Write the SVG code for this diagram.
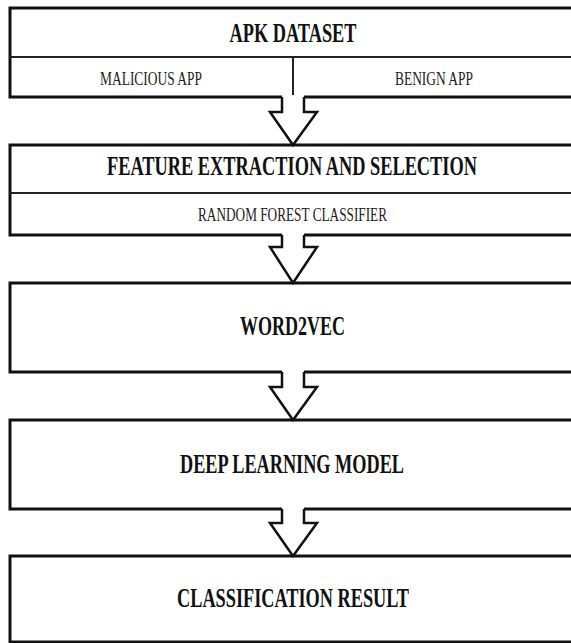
<svg xmlns="http://www.w3.org/2000/svg" width="571" height="643" viewBox="0 0 571 643">
<style>
.box{fill:#fff;stroke:#111;stroke-width:3}
.div{stroke:#222;stroke-width:2;fill:none}
.b{font-family:"Liberation Serif","Times New Roman",serif;font-weight:bold;font-size:27px;fill:#111;text-anchor:middle}
.r{font-family:"Liberation Serif","Times New Roman",serif;font-size:19px;fill:#222;text-anchor:middle}
.af{fill:#fff;stroke:none}
.as{fill:none;stroke:#111;stroke-width:2.5;stroke-linejoin:miter}
</style>
<rect width="571" height="643" fill="#fff"/>
<g id="apk-dataset">
<rect class="box" x="10" y="8" width="566" height="89"/>
<line class="div" x1="10" y1="57" x2="576" y2="57"/>
<line class="div" x1="293" y1="57" x2="293" y2="97"/>
<text class="b" transform="translate(293,41.5) scale(0.68,1)" x="0" y="0" textLength="186.8" lengthAdjust="spacingAndGlyphs">APK DATASET</text>
<text class="r" transform="translate(151,85) scale(0.8,1)" x="0" y="0" textLength="127.5" lengthAdjust="spacingAndGlyphs">MALICIOUS APP</text>
<text class="r" transform="translate(434,85) scale(0.8,1)" x="0" y="0" textLength="97.5" lengthAdjust="spacingAndGlyphs">BENIGN APP</text>
</g>
<g id="feature-extraction">
<rect class="box" x="10" y="145" width="566" height="90"/>
<line class="div" x1="10" y1="193" x2="576" y2="193"/>
<text class="b" transform="translate(292,175) scale(0.68,1)" x="0" y="0" textLength="544" lengthAdjust="spacingAndGlyphs">FEATURE EXTRACTION AND SELECTION</text>
<text class="r" transform="translate(292.5,221) scale(0.8,1)" x="0" y="0" textLength="236.25" lengthAdjust="spacingAndGlyphs">RANDOM FOREST CLASSIFIER</text>
</g>
<g id="word2vec">
<rect class="box" x="10" y="283" width="566" height="89"/>
<text class="b" transform="translate(292.5,335) scale(0.68,1)" x="0" y="0" textLength="154.4" lengthAdjust="spacingAndGlyphs">WORD2VEC</text>
</g>
<g id="deep-learning">
<rect class="box" x="10" y="420" width="566" height="89"/>
<text class="b" transform="translate(292,473) scale(0.68,1)" x="0" y="0" textLength="329.4" lengthAdjust="spacingAndGlyphs">DEEP LEARNING MODEL</text>
</g>
<g id="classification-result">
<rect class="box" x="10" y="556" width="566" height="86"/>
<text class="b" transform="translate(293,607) scale(0.68,1)" x="0" y="0" textLength="341.2" lengthAdjust="spacingAndGlyphs">CLASSIFICATION RESULT</text>
</g>
<g id="connectors">
<polygon class="af" points="282,95 304,95 304,112 317,112 293,145 270,112 282,112"/>
<polyline class="as" points="282,97 282,112 270,112 293,145 317,112 304,112 304,97"/>
<polygon class="af" points="282,233 304,233 304,247 317,247 293,283 270,247 282,247"/>
<polyline class="as" points="282,235 282,247 270,247 293,283 317,247 304,247 304,235"/>
<polygon class="af" points="282,370 304,370 304,387 317,387 293,420 270,387 282,387"/>
<polyline class="as" points="282,372 282,387 270,387 293,420 317,387 304,387 304,372"/>
<polygon class="af" points="282,507 304,507 304,523 317,523 293,556 270,523 282,523"/>
<polyline class="as" points="282,509 282,523 270,523 293,556 317,523 304,523 304,509"/>
</g>
</svg>
